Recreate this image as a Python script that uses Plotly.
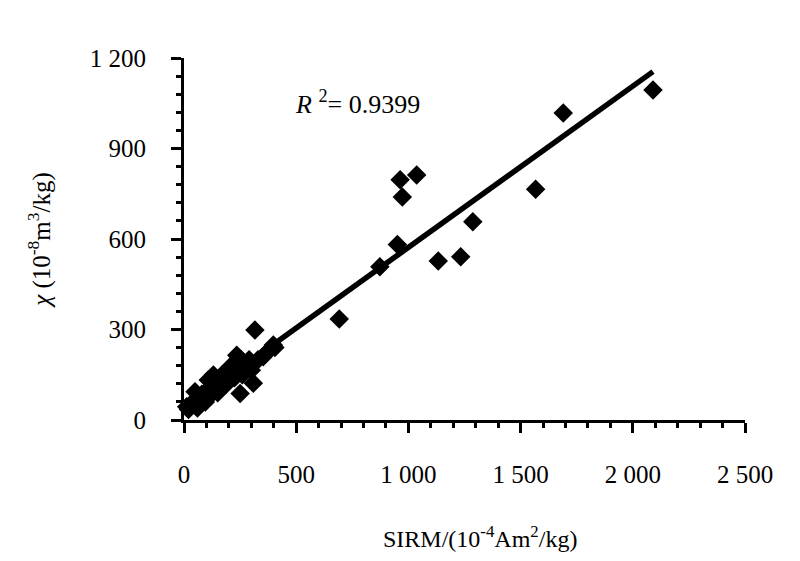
import numpy as np
import plotly.graph_objects as go

# SIRM (10^-4 Am2/kg) and chi (10^-8 m3/kg)
sirm = [12, 20, 30, 40, 49, 55, 60, 65, 71, 80, 90, 95, 100, 108, 115, 120, 130, 131,
        140, 145, 150, 160, 170, 174, 185, 190, 200, 210, 218, 225, 230, 235, 245, 250,
        255, 260, 264, 270, 279, 285, 290, 300, 309, 316, 330, 353, 370, 398, 405,
        692, 873, 951, 963, 973, 1037, 1133, 1233, 1287, 1567, 1690, 2090]
chi = [44, 35, 50, 60, 94, 70, 40, 55, 66, 85, 75, 60, 95, 133, 80, 100, 95, 149,
       110, 130, 90, 125, 150, 110, 140, 120, 130, 180, 156, 140, 175, 215, 165, 88,
       200, 150, 180, 160, 177, 190, 200, 165, 122, 298, 200, 210, 225, 249, 240,
       335, 508, 582, 796, 739, 812, 527, 541, 657, 765, 1018, 1094]

x_tickvals = [0, 500, 1000, 1500, 2000, 2500]
x_ticktext = ["0", "500", "1 000", "1 500", "2 000", "2 500"]
y_tickvals = [0, 300, 600, 900, 1200]
y_ticktext = ["0", "300", "600", "900", "1 200"]
r2_label = "0.9399"

# linear trend line from the points
slope, intercept = np.polyfit(sirm, chi, 1)
fit_x = np.array([min(sirm), max(sirm)])
fit_y = slope * fit_x + intercept

font = "Liberation Serif"

fig = go.Figure()
fig.add_trace(go.Scatter(
    x=fit_x, y=fit_y, mode="lines",
    line=dict(color="black", width=5.5),
    cliponaxis=False, hoverinfo="skip"))
fig.add_trace(go.Scatter(
    x=sirm, y=chi, mode="markers",
    marker=dict(symbol="diamond", size=15, color="black"),
    cliponaxis=False))

axis_common = dict(
    showline=True, linecolor="black", linewidth=3,
    ticks="outside", ticklen=10, tickwidth=2.5, tickcolor="black",
    showgrid=False, zeroline=False,
    tickfont=dict(family=font, size=25, color="black"),
)

fig.update_xaxes(range=[0, 2500], tickvals=x_tickvals, ticktext=x_ticktext,
                 ticklabelstandoff=20,
                 minor=dict(dtick=100, ticks="outside", ticklen=5, tickwidth=2.5,
                            tickcolor="black", showgrid=False),
                 **axis_common)
fig.update_yaxes(range=[0, 1200], tickvals=y_tickvals, ticktext=y_ticktext,
                 ticklabelstandoff=20,
                 minor=dict(dtick=60, ticks="outside", ticklen=5, tickwidth=2.5,
                            tickcolor="black", showgrid=False),
                 title=dict(text="<i>χ</i> (10<sup>-8</sup>m<sup>3</sup>/kg)",
                            font=dict(family=font, size=25, color="black"), standoff=33),
                 **axis_common)

# x-axis title, placed in plot-fraction terms
fig.add_annotation(xref="paper", yref="paper", x=(480 - 184) / 561, y=-(537 - 420) / 362,
                   yanchor="middle", showarrow=False,
                   text="SIRM/(10<sup>-4</sup>Am<sup>2</sup>/kg)",
                   font=dict(family=font, size=24, color="black"))
fig.add_annotation(x=771, y=1054, showarrow=False,
                   text="<i>R</i> <sup>2</sup>= " + r2_label,
                   font=dict(family=font, size=26, color="black"))

# page body has an 8px margin, so the figure is a little smaller than the window
fig.update_layout(
    width=792, height=553,
    margin=dict(l=176, r=55, t=50, b=141),
    paper_bgcolor="white", plot_bgcolor="white",
    showlegend=False,
)

fig.write_html("out.html")
